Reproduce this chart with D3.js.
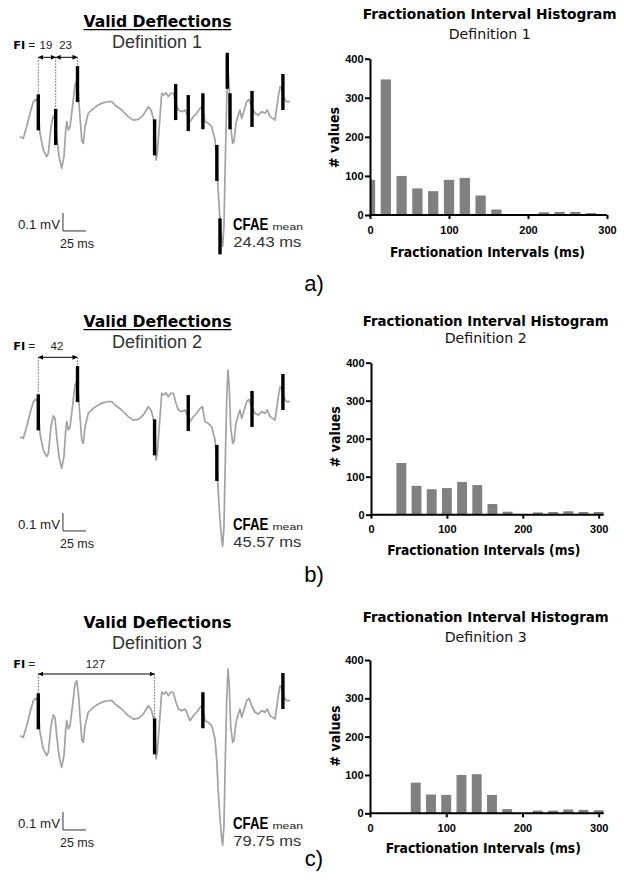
<!doctype html>
<html>
<head>
<meta charset="utf-8">
<title>Valid deflections / fractionation interval histograms</title>
<script src="https://cdn.jsdelivr.net/npm/d3@7"></script>
<style>
  body { margin: 0; background: #fff; }
  svg text { font-family: "Liberation Sans", Arial, sans-serif; }
  .dj { font-family: "DejaVu Sans", Verdana, sans-serif; }
</style>
</head>
<body>
<svg id="fig" width="624" height="890"></svg>
<script>
// electrogram, same recording for the three definitions: [time ms, amplitude mV]
const trace = [
  [0,-0.148],[3.6,-0.157],[7.3,-0.093],[10.9,-0.018],[14.5,0.046],[17.1,0.059],[19.2,0.046],
  [21.7,-0.129],[25.3,-0.222],[29.0,-0.259],[30.8,-0.241],[33.7,-0.093],[36.2,-0.033],[38.0,-0.046],
  [39.9,-0.148],[42.4,-0.259],[45.3,-0.324],[47.8,-0.259],[49.7,-0.111],[50.8,-0.065],[52.5,-0.111],
  [54.4,-0.093],[56.2,-0.018],[57.9,0.056],[59.8,0.139],[61.6,0.157],[63.4,0.093],[65.2,-0.037],
  [67.1,-0.167],[68.8,-0.185],[70.7,-0.093],[74.2,-0.018],[79.7,0.009],[85.1,0.028],[90.5,0.041],
  [96.0,0.046],[99.7,0.046],[103.3,0.028],[110.5,0],[117.7,-0.037],[123.2,-0.056],[128.6,-0.052],
  [134.0,-0.028],[139.5,0.018],[142.4,0],[144.9,-0.046],[146.7,-0.093],[147.8,-0.278],[149.2,-0.241],
  [151.4,-0.093],[154.0,0.093],[156.5,0.083],[158.7,0.096],[161.2,0.074],[163.8,0.093],[166.6,0.093],
  [169.6,0.037],[172.1,0],[175.8,-0.009],[179.4,0],[181.2,-0.018],[184.8,-0.065],[188.4,-0.037],
  [192.1,-0.018],[195.7,0.009],[198.2,0.018],[201.1,-0.065],[204.7,-0.074],[208.4,-0.093],[212.0,-0.167],
  [213.8,-0.278],[215.6,-0.463],[217.4,-0.611],[219.3,-0.722],[220.3,-0.756],[221.7,-0.648],[223.2,-0.278],
  [224.7,0.056],[226.1,0.222],[227.5,0.129],[229.0,-0.093],[231.2,-0.185],[232.6,-0.176],[234.8,-0.074],
  [237.3,-0.028],[239.1,0],[241.0,-0.046],[242.7,-0.018],[246.4,0.046],[248.9,0.059],[251.8,0.018],
  [255.4,-0.018],[259.0,-0.028],[262.7,-0.009],[266.3,-0.018],[268.8,0],[271.8,-0.037],[277.2,-0.056],
  [280.8,0.074],[282.6,0.129],[284.4,0.121],[287.0,0.065],[289.9,0.046],[293.5,0.046]
];

// valid deflections per definition: [time ms, top of marker mV]
const defl1 = [[19.9,0.087],[38.8,0.006],[62.5,0.244],[146.3,-0.052],[169.2,0.144],[182.9,0.083],
               [198.8,0.093],[214.0,-0.194],[217.4,-0.602],[225.3,0.318],[228.3,0.093],[252.2,0.106],[285.8,0.2]];
const defl2 = [[19.9,0.087],[62.5,0.244],[146.3,-0.052],[182.9,0.083],[214.0,-0.194],[252.2,0.106],[285.8,0.2]];
const defl3 = [[19.9,0.087],[146.3,-0.052],[198.8,0.093],[285.8,0.2]];

// annotated fractionation intervals: [from deflection, to deflection, label]
const fi1 = [[0,1,"19"],[1,2,"23"]];
const fi2 = [[0,1,"42"]];
const fi3 = [[0,1,"127"]];

const definitions = ["Definition 1", "Definition 2", "Definition 3"];
const cfaeMean = ["24.43 ms", "45.57 ms", "79.75 ms"];
const panelLabels = ["a)", "b)", "c)"];

// fractionation interval histograms: bin centre (ms) and count
const bins1 = [0,20,40,60,80,100,120,140,160,180,200,220,240,260,280];
const counts1 = [90,347,100,68,61,90,95,50,14,0,0,7,8,8,5];
const bins2 = [40,60,80,100,120,140,160,180,200,220,240,260,280,300];
const counts2 = [136,76,67,70,86,78,28,8,0,6,7,9,7,7];
const bins3 = [60,80,100,120,140,160,180,200,220,240,260,280,300];
const counts3 = [80,49,48,100,102,48,11,0,7,7,10,9,8];
const xTicks = [0,100,200,300];
const yTicks = [0,100,200,300,400];

const svg = d3.select("#fig");

svg.append("defs").append("marker")
    .attr("id", "arr").attr("viewBox", "0 0 6 6")
    .attr("refX", 6).attr("refY", 3)
    .attr("markerWidth", 5).attr("markerHeight", 5)
    .attr("markerUnits", "userSpaceOnUse")
    .attr("orient", "auto-start-reverse")
  .append("path").attr("d", "M0,0L6,3L0,6Z").attr("fill", "#000");

// ---------- left: signal with marked deflections ----------
const sx = d3.scaleLinear().domain([0, 293.5]).range([20, 290]);
const sy = d3.scaleLinear().domain([0, 0.1]).range([110, 92]);
const line = d3.line().x(d => sx(d[0])).y(d => sy(d[1]));
const markLen = 0.2;   // mV

const leftPanels = [
  {top: 0,   defl: defl1, fi: fi1, head: 0, arrowY: 57.3, fiY: 49.3, underline: true},
  {top: 300, defl: defl2, fi: fi2, head: 0, arrowY: 57.3, fiY: 50,   underline: true},
  {top: 599, defl: defl3, fi: fi3, head: 2, arrowY: 75,   fiY: 68.7, underline: false}
];

leftPanels.forEach((p, i) => {
  const g = svg.append("g").attr("transform", `translate(0,${p.top})`);

  g.append("text").attr("class", "dj")
      .attr("x", 157.5).attr("y", 26.7 + p.head)
      .attr("text-anchor", "middle").attr("font-weight", "bold").attr("font-size", 15)
      .attr("textLength", 148).attr("lengthAdjust", "spacingAndGlyphs")
      .text("Valid Deflections");
  if (p.underline) {
    g.append("line").attr("x1", 83.5).attr("x2", 231.5)
        .attr("y1", 29.6).attr("y2", 29.6).attr("stroke", "#000").attr("stroke-width", 1.1);
  }
  g.append("text").attr("x", 157).attr("y", 48.3 + p.head)
      .attr("text-anchor", "middle").attr("font-size", 17.5).attr("fill", "#333")
      .attr("textLength", 90).attr("lengthAdjust", "spacingAndGlyphs")
      .text(definitions[i]);

  g.append("path").datum(trace).attr("d", line)
      .attr("fill", "none").attr("stroke", "#a2a2a2").attr("stroke-width", 1.7)
      .attr("stroke-linejoin", "round");

  g.selectAll("rect.defl").data(p.defl).join("rect").attr("class", "defl")
      .attr("x", d => sx(d[0]) - 1.7).attr("width", 3.4)
      .attr("y", d => sy(d[1]))
      .attr("height", d => sy(d[1] - markLen) - sy(d[1]))
      .attr("fill", "#000");

  // FI annotation
  g.append("text").attr("class", "dj").attr("x", 13.3).attr("y", p.fiY)
      .attr("font-weight", "bold").attr("font-size", 11)
      .attr("textLength", 12).attr("lengthAdjust", "spacingAndGlyphs").text("FI");
  g.append("text").attr("x", 28.3).attr("y", p.fiY).attr("font-size", 12).attr("fill", "#222").text("=");

  const ends = new Set();
  p.fi.forEach(f => { ends.add(f[0]); ends.add(f[1]); });
  ends.forEach(k => {
    const d = p.defl[k];
    g.append("line").attr("x1", sx(d[0])).attr("x2", sx(d[0]))
        .attr("y1", p.arrowY).attr("y2", sy(d[1]))
        .attr("stroke", "#666").attr("stroke-width", 1).attr("stroke-dasharray", "1.5,1.5");
  });
  p.fi.forEach(f => {
    const a = sx(p.defl[f[0]][0]), b = sx(p.defl[f[1]][0]);
    g.append("line").attr("x1", a).attr("x2", b).attr("y1", p.arrowY).attr("y2", p.arrowY)
        .attr("stroke", "#000").attr("stroke-width", 1)
        .attr("marker-start", "url(#arr)").attr("marker-end", "url(#arr)");
    g.append("text").attr("x", (a + b) / 2 - 1).attr("y", p.fiY)
        .attr("text-anchor", "middle").attr("font-size", 11.5).attr("fill", "#222")
        .text(f[2]);
  });

  // scale bar 0.1 mV / 25 ms
  const bx = 46.7, by = -0.672;
  g.append("path")
      .attr("d", `M${sx(bx)},${sy(by + 0.1)}V${sy(by)}H${sx(bx + 25)}`)
      .attr("fill", "none").attr("stroke", "#333").attr("stroke-width", 1);
  g.append("text").attr("x", 60).attr("y", 228.8).attr("text-anchor", "end")
      .attr("font-size", 13).attr("fill", "#222")
      .attr("textLength", 42).attr("lengthAdjust", "spacingAndGlyphs").text("0.1 mV");
  g.append("text").attr("x", 60).attr("y", 248.3)
      .attr("font-size", 13).attr("fill", "#222")
      .attr("textLength", 34).attr("lengthAdjust", "spacingAndGlyphs").text("25 ms");

  // CFAE mean (condensed bold label with wide subscript)
  g.append("text").attr("transform", "translate(233,229.5) scale(0.83,1)")
      .attr("font-size", 16).attr("font-weight", "bold").text("CFAE");
  g.append("text").attr("transform", "translate(272.5,230.3) scale(1.28,1)")
      .attr("font-size", 9.5).attr("fill", "#222").text("mean");
  g.append("text").attr("x", 233.3).attr("y", 246.8)
      .attr("font-size", 15.5).attr("fill", "#333")
      .attr("textLength", 68).attr("lengthAdjust", "spacingAndGlyphs").text(cfaeMean[i]);
});

// panel letters
const letterY = [290.7, 582, 866];
panelLabels.forEach((l, i) => {
  svg.append("text").attr("x", 314).attr("y", letterY[i])
      .attr("text-anchor", "middle").attr("font-family", "Liberation Serif, Times New Roman, serif")
      .attr("font-size", 22).text(l);
});

// ---------- right: histograms ----------
const histPanels = [
  {bins: bins1, counts: counts1, x0: 370, x300: 607,   y0: 215,   y400: 58.7, cx: 489.7,
   titleY: 19.3, titleW: 254, subY: 39.3, xTitleY: 256.5, xTitleW: 195, yLabX: 334, yLabY: 137.5},
  {bins: bins2, counts: counts2, x0: 371, x300: 598.7, y0: 514.7, y400: 362.7, cx: 485.7,
   titleY: 326,  titleW: 246, subY: 342.7, xTitleY: 555,  xTitleW: 193, yLabX: 335, yLabY: 436.7},
  {bins: bins3, counts: counts3, x0: 370, x300: 598.7, y0: 813.3, y400: 660,  cx: 485.7,
   titleY: 621.7, titleW: 246, subY: 641.7, xTitleY: 853.3, xTitleW: 195, yLabX: 335, yLabY: 736}
];
const binW = 13;   // ms, drawn bar width

histPanels.forEach((h, i) => {
  const g = svg.append("g");
  const x = d3.scaleLinear().domain([0, 300]).range([h.x0, h.x300]);
  const y = d3.scaleLinear().domain([0, 400]).range([h.y0, h.y400]);

  g.append("text").attr("class", "dj").attr("x", h.cx).attr("y", h.titleY)
      .attr("text-anchor", "middle").attr("font-weight", "bold").attr("font-size", 14)
      .attr("textLength", h.titleW).attr("lengthAdjust", "spacingAndGlyphs")
      .text("Fractionation Interval Histogram");
  g.append("text").attr("class", "dj").attr("x", h.cx).attr("y", h.subY)
      .attr("text-anchor", "middle").attr("font-size", 14).attr("fill", "#111")
      .attr("textLength", 82).attr("lengthAdjust", "spacingAndGlyphs")
      .text(definitions[i]);

  const data = h.bins.map((b, k) => ({b: b, n: h.counts[k]})).filter(d => d.n > 0);
  g.selectAll("rect").data(data).join("rect")
      .attr("x", d => x(Math.max(0, d.b - binW / 2)))
      .attr("width", d => x(d.b + binW / 2) - x(Math.max(0, d.b - binW / 2)))
      .attr("y", d => y(d.n))
      .attr("height", d => y(0) - y(d.n))
      .attr("fill", "#808080");

  const lastEdge = d3.max(h.bins) + binW / 2;
  const gx = g.append("g").attr("transform", `translate(0,${h.y0})`)
      .call(d3.axisBottom(x).tickValues(xTicks).tickFormat(d3.format("d"))
              .tickSize(4).tickSizeOuter(0).tickPadding(7));
  gx.select(".domain").attr("d", `M${x(0)},0H${x(Math.max(300, lastEdge))}`);
  const gy = g.append("g").attr("transform", `translate(${h.x0},0)`)
      .call(d3.axisLeft(y).tickValues(yTicks).tickFormat(d3.format("d"))
              .tickSize(5).tickSizeOuter(0).tickPadding(1.5));
  [gx, gy].forEach(a => {
    a.selectAll(".domain, .tick line").attr("stroke", "#000").attr("stroke-width", 2);
    a.selectAll(".tick text").attr("font-family", "DejaVu Sans, Verdana, sans-serif")
        .attr("font-weight", "bold").attr("font-size", 11).attr("fill", "#000");
  });

  g.append("text").attr("class", "dj").attr("x", (h.x0 + h.x300) / 2 - 1).attr("y", h.xTitleY)
      .attr("text-anchor", "middle").attr("font-weight", "bold").attr("font-size", 14)
      .attr("textLength", h.xTitleW).attr("lengthAdjust", "spacingAndGlyphs")
      .text("Fractionation Intervals (ms)");
  g.append("text").attr("class", "dj")
      .attr("transform", `translate(${h.yLabX + 5},${h.yLabY}) rotate(-90)`)
      .attr("text-anchor", "middle").attr("font-weight", "bold").attr("font-size", 14)
      .attr("textLength", 61).attr("lengthAdjust", "spacingAndGlyphs")
      .text("# values");
});
</script>
</body>
</html>
